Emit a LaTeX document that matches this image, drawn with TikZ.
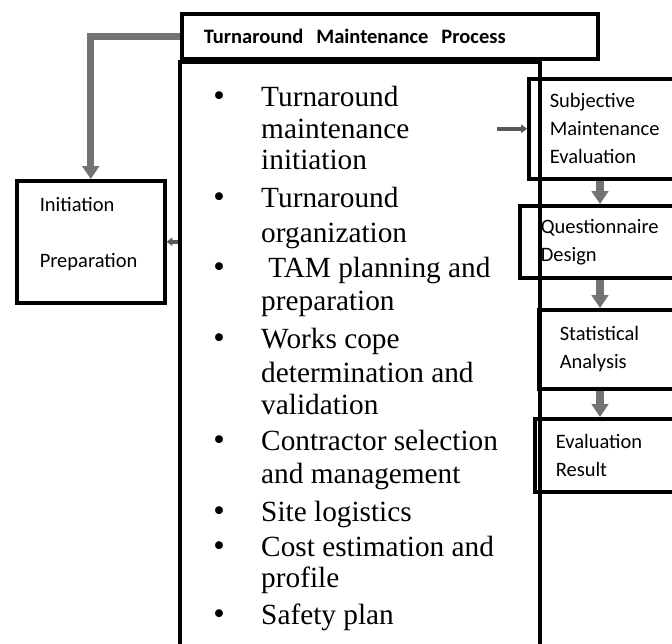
\documentclass[tikz,border=0pt]{standalone}
\usepackage{fontspec}
\setmainfont{Liberation Serif}
\newfontfamily\boxfont{Carlito}
\usetikzlibrary{arrows.meta,positioning}

\begin{document}
\begin{tikzpicture}[x=0.03cm,y=-0.03cm,
	box/.style={draw,line width=3pt,rectangle,anchor=north west},
	sidebox/.style={box,align=left,inner xsep=0.63cm,text width=4cm,
		font=\boxfont\fontsize{17.5}{24}\selectfont},
	bigarrow/.style={draw=black!55,line width=6pt,-{Triangle[width=14pt,length=11pt]}},
	smallarrow/.style={draw=black!65,line width=3.5pt,-{Triangle[width=7pt,length=5pt]}},
	item/.style={anchor=base west,inner sep=0pt,font=\fontsize{25}{30}\selectfont},
	dot/.style={anchor=base,inner sep=0pt,font=\fontsize{28}{30}\selectfont}]
	\clip (0,0) rectangle (672,643);
	% title and main list
	\node[box,align=left,inner xsep=0.66cm,text width=11.16cm,minimum height=1.35cm,
		font=\boxfont\bfseries\fontsize{17.5}{20}\selectfont] (title) at (180,12)
		{Turnaround\hspace{0.3em} Maintenance\hspace{0.3em} Process};
	\node[box,minimum width=10.8cm,minimum height=18.6cm] (main) at (178,60) {};
	\foreach \y/\t [count=\i] in {106/Turnaround,138/maintenance,169/initiation,
		207/Turnaround,242/organization,277/{\hspace{6pt}TAM planning and},310/preparation,
		348/Works cope,382/determination and,414/validation,
		450/Contractor selection,483/and management,521/Site logistics,
		556/Cost estimation and,587/profile,624/Safety plan}
		\node[item] (line\i) at (261,\y) {\t};
	\foreach \y [count=\i] in {106,207,277,348,450,521,556,624}
		\node[dot] (dot\i) at (219,\y) {\textbullet};
	% left box
	\node[sidebox,inner xsep=0.69cm,text width=3.06cm,minimum height=3.66cm] (init) at (15,179)
		{Initiation\\[0.83cm]Preparation\\[-0.3cm]\mbox{}};
	% right column
	\node[sidebox,minimum height=3cm] (sub) at (527,77) {Subjective\\Maintenance\\Evaluation};
	\node[sidebox,minimum height=2.16cm] (quest) at (518,204) {Questionnaire\\Design};
	\node[sidebox,minimum height=2.37cm] (stat) at (537,308) {Statistical\\Analysis};
	\node[sidebox,minimum height=2.19cm] (eval) at (533,417) {Evaluation\\Result};
	\coordinate (col) at (600,0);
	\coordinate (from) at (497,0);
	% arrows
	\draw[bigarrow] (title.west) -| (init.north);
	\draw[smallarrow] (main.west |- init.east) -- (init.east);
	\draw[smallarrow] (sub.west -| from) -- (sub.west);
	\draw[bigarrow] (sub.south -| col) -- (quest.north -| col);
	\draw[bigarrow] (quest.south -| col) -- (stat.north -| col);
	\draw[bigarrow] (stat.south -| col) -- (eval.north -| col);
\end{tikzpicture}
\end{document}
